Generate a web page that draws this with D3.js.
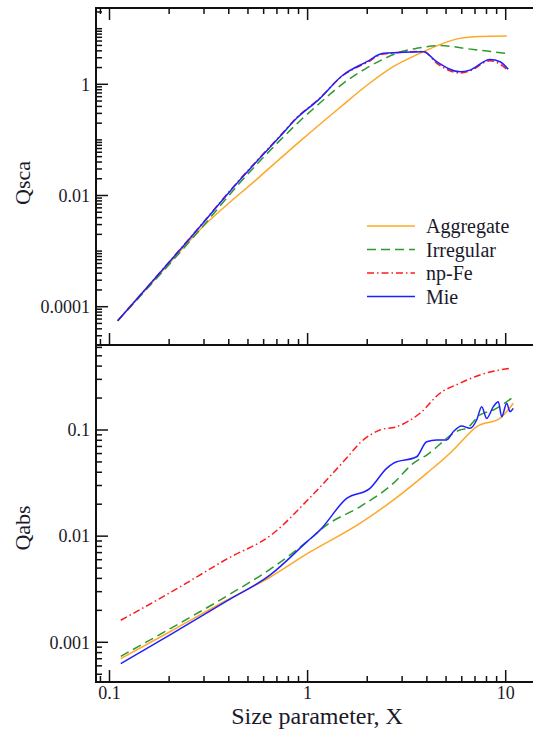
<!DOCTYPE html>
<html>
<head>
<meta charset="utf-8">
<script src="https://cdn.jsdelivr.net/npm/d3@7"></script>
<style>
  body { margin: 0; background: #fff; }
  svg { display: block; }
</style>
</head>
<body>
<div class="container"></div>
<script>
// Qsca (top panel): [size parameter, value]
const scaAggregate = [[0.11, 5.6e-5], [0.18, 3.93e-4], [0.286, 2.42e-3], [0.574, 0.0219], [0.914, 0.094],
  [1.456, 0.383], [2.064, 1.055], [2.706, 2.07], [3.691, 3.6], [4.658, 5.18], [5.877, 6.7],
  [7.418, 7.21], [10.12, 7.36]];
const scaIrregular = [[0.11, 5.6e-5], [0.286, 2.42e-3], [0.455, 0.0169], [0.725, 0.098], [0.914, 0.219],
  [1.154, 0.461], [1.513, 1.04], [1.947, 1.88], [2.457, 2.93], [2.925, 3.8], [3.552, 4.43],
  [4.658, 4.97], [6.862, 4.22], [10.12, 3.6]];
const scaNpFe = [[0.11, 5.6e-5], [0.264, 0.002], [0.455, 0.0195], [0.725, 0.118], [0.88, 0.25], [1.13, 0.53],
  [1.51, 1.45], [1.99, 2.45], [2.41, 3.5], [3.84, 3.9], [4.48, 2.4], [5.88, 1.6], [6.6, 1.75],
  [8.33, 2.65], [9.37, 2.3], [10.3, 1.75]];
const scaMie = [[0.11, 5.6e-5], [0.264, 0.00197], [0.455, 0.019], [0.725, 0.115], [0.88, 0.245], [1.13, 0.52],
  [1.51, 1.47], [1.99, 2.55], [2.41, 3.6], [3.84, 3.85], [4.48, 2.55], [5.88, 1.68], [6.6, 1.8],
  [8.33, 2.8], [9.37, 2.55], [10.3, 1.86]];

// Qabs (bottom panel)
const absAggregate = [[0.114, 7.02e-4], [0.204, 1.27e-3], [0.39, 2.49e-3], [0.645, 4.1e-3], [1.0, 6.87e-3],
  [1.837, 0.01318], [2.706, 0.02186], [3.99, 0.03905], [5.437, 0.0648], [5.877, 0.0754],
  [7.137, 0.1074], [9.359, 0.1289], [10.92, 0.1786]];
const absIrregular = [[0.114, 7.38e-4], [0.204, 1.355e-3], [0.39, 2.72e-3], [0.67, 5.1e-3], [1.0, 8.97e-3],
  [1.247, 0.0127], [1.837, 0.0189], [2.706, 0.03142], [3.415, 0.04851], [3.99, 0.05808],
  [5.877, 0.1], [6.353, 0.1038], [7.418, 0.1385], [8.659, 0.1544], [10.72, 0.1991]];
const absNpFe = [[0.114, 1.613e-3], [0.204, 2.96e-3], [0.39, 6.07e-3], [0.67, 0.0106], [1.0, 0.02186],
  [1.247, 0.03376], [1.574, 0.05442], [1.858, 0.077], [2.318, 0.1], [2.815, 0.1074], [3.691, 0.1438],
  [4.658, 0.2219], [5.877, 0.2758], [7.418, 0.3303], [10.51, 0.382]];
const absMie = [[0.114, 6.3e-4], [0.204, 1.19e-3], [0.39, 2.44e-3], [0.645, 4.29e-3], [1.0, 8.97e-3],
  [1.154, 0.01139], [1.574, 0.02268], [2.064, 0.02818], [2.506, 0.04351], [2.706, 0.04851],
  [3.552, 0.05598], [3.99, 0.07755], [4.482, 0.08049], [5.035, 0.08049], [5.437, 0.0964],
  [5.996, 0.1091], [6.6, 0.1038], [7.137, 0.1242], [7.564, 0.1659], [8.017, 0.1286],
  [8.659, 0.1659], [9.177, 0.1849], [9.546, 0.1335], [10.12, 0.1785], [10.51, 0.149], [10.92, 0.1601]];

const seriesNames = ["Aggregate", "Irregular", "np-Fe", "Mie"];
const xTickLabels = [0.1, 1, 10];
const scaTickLabels = [0.0001, 0.01, 1];
const absTickLabels = [0.001, 0.01, 0.1];

const width = 533;
const height = 729;
const left = 96;
const topY = 8;
const midY = 345;
const bottomY = 682;
const rightX = 545;
const serif = '"Liberation Serif"';
const ink = "#1a1a2a";

const styles = [
  { color: "#ffa726", dash: null },
  { color: "#2e9a2e", dash: "9,5" },
  { color: "#ff1a1a", dash: "7,3,1.5,3" },
  { color: "#1f1fff", dash: null },
];

const svg = d3.select(".container").append("svg")
  .attr("width", width).attr("height", height);

const xScale = d3.scaleLog().domain([0.1, 10]).range([109.5, 505.7]);
const yTop = d3.scaleLog().domain([1e-4, 1]).range([306.7, 84.3]);
const yBot = d3.scaleLog().domain([1e-3, 0.1]).range([642.3, 430]);

const fmt = (v) => String(+v.toPrecision(2));

const label = (sel, size) =>
  sel.style("font-family", serif).attr("font-size", size).attr("fill", ink);

// all n*10^k values inside a scale's visible range
const allTicks = (scale, lo, hi) => {
  const out = [];
  for (let k = -6; k <= 2; k++)
    for (let n = 1; n <= 9; n++) {
      const v = n * Math.pow(10, k);
      const p = scale(v);
      if (p > lo + 1 && p < hi - 1) out.push(+v.toPrecision(3));
    }
  return out;
};

// curves
const drawCurves = (yScale, sets) => {
  const line = d3.line()
    .x((d) => xScale(d[0]))
    .y((d) => yScale(d[1]))
    .curve(d3.curveMonotoneX);
  sets.forEach((data, i) => {
    svg.append("path")
      .attr("d", line(data))
      .attr("fill", "none")
      .attr("stroke", styles[i].color)
      .attr("stroke-width", 1.5)
      .attr("stroke-dasharray", styles[i].dash);
  });
};
drawCurves(yTop, [scaAggregate, scaIrregular, scaNpFe, scaMie]);
drawCurves(yBot, [absAggregate, absIrregular, absNpFe, absMie]);

// frame
const frame = svg.append("g").attr("stroke", "#111").attr("stroke-width", 2);
frame.append("line").attr("x1", left).attr("x2", left).attr("y1", topY - 1).attr("y2", bottomY + 1);
[topY, midY, bottomY].forEach((y) => {
  frame.append("line").attr("x1", left).attr("x2", rightX).attr("y1", y).attr("y2", y);
});

// x ticks (inward)
const xVals = allTicks(xScale, left, rightX);
const tickG = svg.append("g").attr("stroke", "#111").attr("stroke-width", 1.5);
const addXTicks = (y, dir) => {
  tickG.selectAll(null).data(xVals).enter().append("line")
    .attr("x1", (d) => xScale(d)).attr("x2", (d) => xScale(d))
    .attr("y1", y)
    .attr("y2", (d) => y + dir * (xTickLabels.includes(d) ? 12 : 6));
};
addXTicks(topY, 1);
addXTicks(midY, -1);
addXTicks(bottomY, -1);

// y ticks (inward)
const addYTicks = (scale, lo, hi, majors) => {
  const vals = allTicks(scale, lo, hi);
  tickG.selectAll(null).data(vals).enter().append("line")
    .attr("x1", left).attr("x2", (d) => left + (majors.includes(d) ? 12 : 6))
    .attr("y1", (d) => scale(d)).attr("y2", (d) => scale(d));
  svg.append("g").selectAll("text").data(majors).enter().append("text")
    .attr("x", left - 6).attr("y", (d) => scale(d))
    .attr("dy", "0.35em")
    .attr("text-anchor", "end")
    .call(label, 18)
    .text(fmt);
};
addYTicks(yTop, topY, midY, scaTickLabels);
addYTicks(yBot, midY, bottomY, absTickLabels);

svg.append("g").selectAll("text").data(xTickLabels).enter().append("text")
  .attr("x", (d) => xScale(d)).attr("y", bottomY + 17)
  .attr("text-anchor", "middle")
  .call(label, 18)
  .text(fmt);

// axis titles
svg.append("text")
  .attr("x", 317).attr("y", 724)
  .attr("text-anchor", "middle")
  .call(label, 24)
  .text("Size parameter, X");
svg.append("text")
  .attr("transform", "translate(30,183) rotate(-90)")
  .attr("text-anchor", "middle")
  .call(label, 22)
  .text("Qsca");
svg.append("text")
  .attr("transform", "translate(30,528) rotate(-90)")
  .attr("text-anchor", "middle")
  .call(label, 22)
  .text("Qabs");

// legend
const legend = svg.append("g").attr("transform", "translate(367,226)");
seriesNames.forEach((name, i) => {
  const row = legend.append("g").attr("transform", `translate(0,${i * 23.5})`);
  row.append("line").attr("x1", 0).attr("x2", 48)
    .attr("stroke", styles[i].color).attr("stroke-width", 1.5)
    .attr("stroke-dasharray", styles[i].dash);
  row.append("text").attr("x", 59).attr("dy", "0.35em")
    .call(label, 20)
    .text(name);
});
</script>
</body>
</html>
